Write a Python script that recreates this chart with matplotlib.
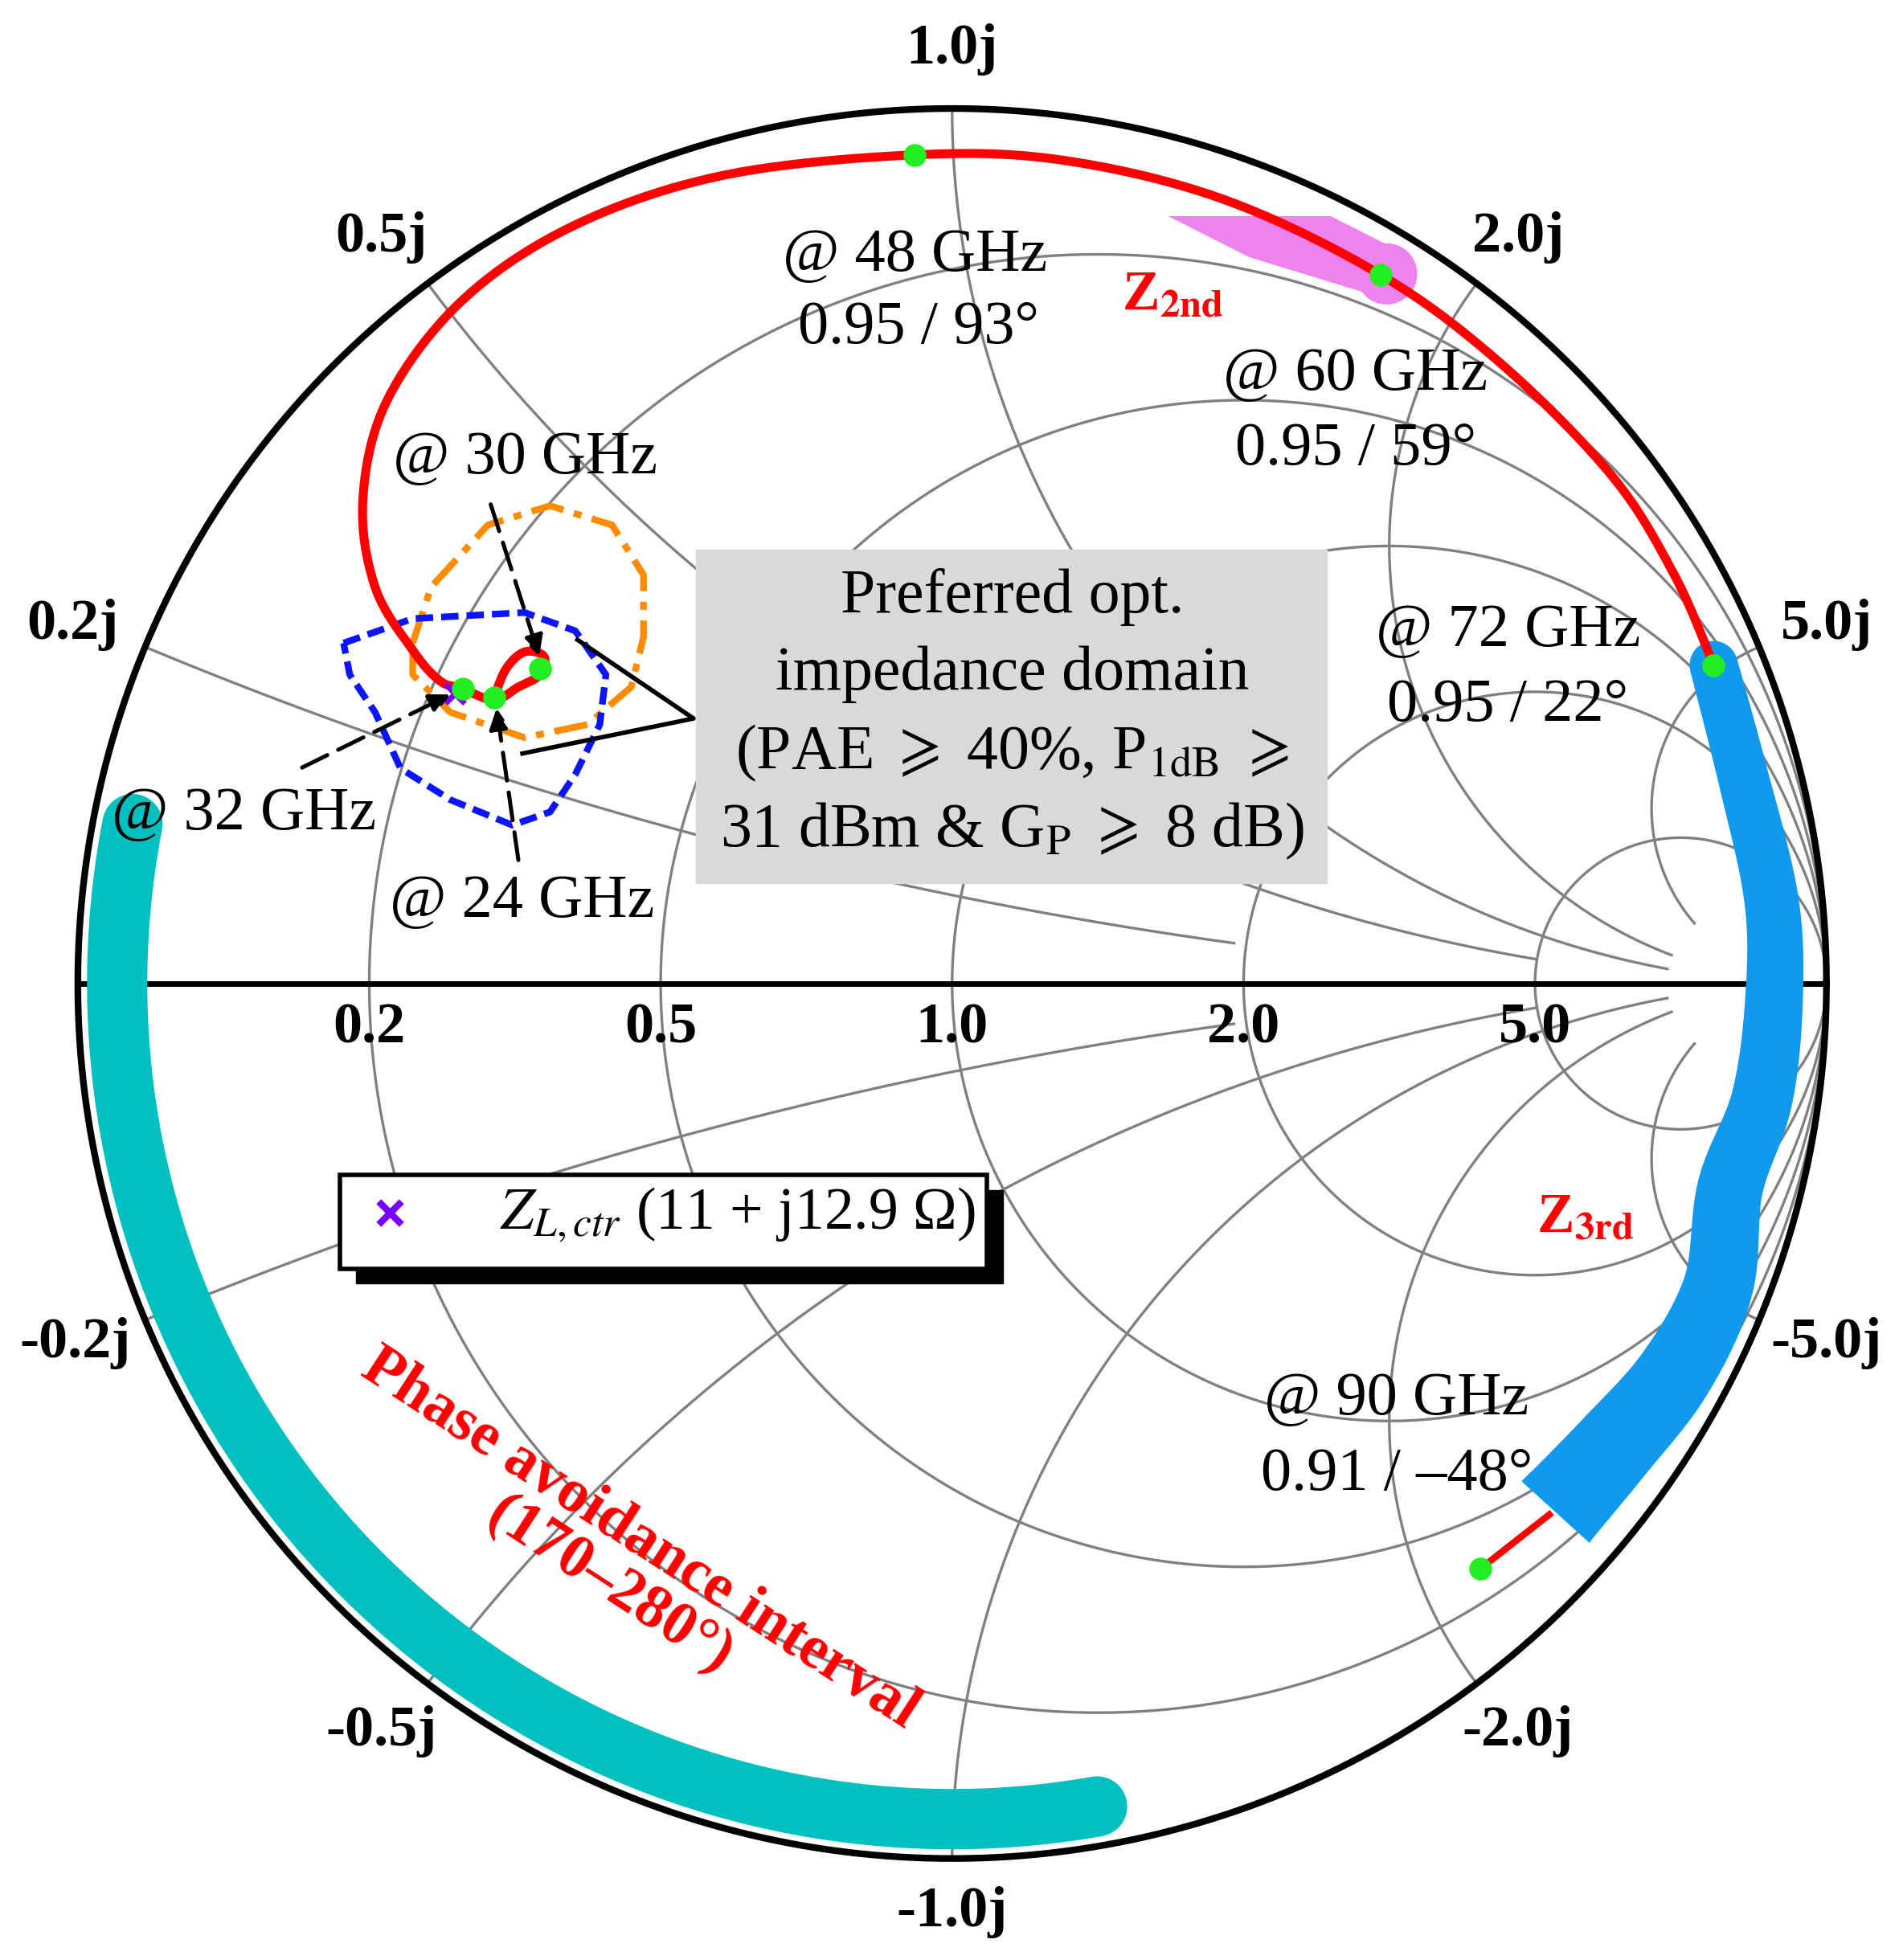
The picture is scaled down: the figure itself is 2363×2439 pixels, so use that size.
import numpy as np
import matplotlib
matplotlib.use("Agg")
import matplotlib.pyplot as plt
from matplotlib.patches import Polygon, Rectangle, Circle

plt.rcParams['font.family'] = ['Liberation Serif', 'DejaVu Serif']
plt.rcParams['mathtext.fontset'] = 'stix'

# ---- data (reflection coefficient plane) ----
r_values = [0.2, 0.5, 1.0, 2.0, 5.0]
x_values = [0.2, 0.5, 1.0, 2.0, 5.0]
x_rlimit = [2.0, 5.0, 10.0, 10.0, 10.0]
r_labels = ["0.2", "0.5", "1.0", "2.0", "5.0"]
z2nd_re = [-0.524, -0.510, -0.489, -0.467, -0.471, -0.496, -0.524, -0.560, -0.586, -0.617, -0.660, -0.674,
           -0.646, -0.560, -0.431, -0.260, -0.043, 0.126, 0.311, 0.490, 0.626, 0.754, 0.826, 0.871]
z2nd_im = [0.327, 0.360, 0.379, 0.374, 0.353, 0.339, 0.324, 0.337, 0.346, 0.381, 0.453, 0.553,
           0.667, 0.781, 0.867, 0.924, 0.947, 0.941, 0.896, 0.810, 0.710, 0.581, 0.467, 0.364]
z3rd_re = [0.871, 0.904, 0.937, 0.940, 0.926, 0.890, 0.876, 0.826, 0.754, 0.690]
z3rd_im = [0.364, 0.239, 0.096, -0.019, -0.133, -0.233, -0.347, -0.447, -0.533, -0.604]
z3rd_width = [0.055, 0.058, 0.062, 0.066, 0.070, 0.075, 0.080, 0.088, 0.096, 0.105]
tail_re = [0.683, 0.604]
tail_im = [-0.607, -0.669]
mag_re = [0.247, 0.433, 0.504, 0.526, 0.497, 0.461, 0.340]
mag_im = [0.877, 0.877, 0.841, 0.807, 0.781, 0.793, 0.830]
orange_re = [-0.617, -0.596, -0.531, -0.460, -0.389, -0.353, -0.353, -0.367, -0.417, -0.489, -0.574, -0.617, -0.617]
orange_im = [0.389, 0.453, 0.524, 0.546, 0.524, 0.467, 0.396, 0.339, 0.296, 0.281, 0.310, 0.353, 0.389]
blue_re = [-0.696, -0.617, -0.489, -0.431, -0.396, -0.403, -0.431, -0.460, -0.503, -0.574, -0.631, -0.660, -0.689, -0.696]
blue_im = [0.389, 0.417, 0.424, 0.403, 0.353, 0.296, 0.239, 0.196, 0.181, 0.210, 0.246, 0.310, 0.353, 0.389]
dots_re = [-0.524, -0.471, -0.560, -0.043, 0.490, 0.871, 0.604]
dots_im = [0.327, 0.360, 0.337, 0.947, 0.810, 0.364, -0.669]
avoid_mag = 0.955
avoid_start, avoid_end = 169.0, 280.0
ZL = 11 + 12.9j
Z0 = 50.0

W, H = 2363, 2439
fig = plt.figure(figsize=(W / 100, H / 100), dpi=100)
ax = fig.add_axes([0, 0, 1, 1])
ax.set_xlim(-1.089, 1.083)
ax.set_ylim(-1.116, 1.124)
ax.axis('off')

def P(x, y):
    return (x - 762) / 700.0, (787 - y) / 700.0

def smooth(xs, ys, k=12):
    """Catmull-Rom path through the given points (drawing only)."""
    p = np.c_[xs, ys]
    p = np.vstack([p[0], p, p[-1]])
    out = []
    tt = np.linspace(0, 1, k, endpoint=False)
    for i in range(1, len(p) - 2):
        p0, p1, p2, p3 = p[i - 1], p[i], p[i + 1], p[i + 2]
        for s in tt:
            out.append(0.5 * ((2 * p1) + (-p0 + p2) * s + (2 * p0 - 5 * p1 + 4 * p2 - p3) * s ** 2
                              + (-p0 + 3 * p1 - 3 * p2 + p3) * s ** 3))
    out.append(p[-2])
    out = np.array(out)
    return out[:, 0], out[:, 1]

grey = '#808080'
t = np.linspace(0, 2 * np.pi, 2000)
for r in r_values:
    c, rad = r / (1 + r), 1 / (1 + r)
    ax.plot(c + rad * np.cos(t), rad * np.sin(t), color=grey, lw=2.4, zorder=1)
for x, rl in zip(x_values, x_rlimit):
    for s in (1, -1):
        gx = 1 + (1 / x) * np.cos(t)
        gy = s / x + (1 / x) * np.sin(t)
        gam = gx + 1j * gy
        with np.errstate(all='ignore'):
            z = (1 + gam) / (1 - gam)
        ok = (np.abs(gam) <= 1.0) & (z.real <= rl)
        gx = np.where(ok, gx, np.nan); gy = np.where(ok, gy, np.nan)
        ax.plot(gx, gy, color=grey, lw=2.4, zorder=1)
ax.plot(np.cos(t), np.sin(t), color='black', lw=6, zorder=2)
ax.plot([-1, 1], [0, 0], color='black', lw=5, zorder=2)

lab = dict(fontsize=52, fontweight='bold', ha='center', va='center')
for r, s in zip(r_values, r_labels):
    ax.text((r - 1) / (r + 1), -0.052, s, **lab)
for pos, s in [((762, 40), "1.0j"), ((305, 190), "0.5j"), ((1215, 190), "2.0j"), ((58, 500), "0.2j"),
               ((1462, 500), "5.0j"), ((60, 1075), "-0.2j"), ((1462, 1075), "-5.0j"),
               ((305, 1385), "-0.5j"), ((1215, 1385), "-2.0j"), ((762, 1530), "-1.0j")]:
    ax.text(*P(*pos), s, **lab)

# phase avoidance band
a = np.radians(np.linspace(avoid_start, avoid_end, 300))
ax.plot(avoid_mag * np.cos(a), avoid_mag * np.sin(a), color='#00c0c0', lw=54, solid_capstyle='round', zorder=3)

# magenta region
ax.add_patch(Polygon(np.c_[mag_re, mag_im], closed=True, color='#ee82ee', lw=0, zorder=3))
ax.add_patch(Circle((0.497, 0.811), 0.035, color='#ee82ee', lw=0, zorder=3))

# Z3rd band (variable width)
xr, yi = smooth(z3rd_re, z3rd_im)
w = np.interp(np.linspace(0, 1, len(xr)), np.linspace(0, 1, len(z3rd_width)), z3rd_width)
dx, dy = np.gradient(xr), np.gradient(yi)
n = np.hypot(dx, dy)
nx, ny = -dy / n, dx / n
poly = np.r_[np.c_[xr + nx * w / 2, yi + ny * w / 2], np.c_[xr - nx * w / 2, yi - ny * w / 2][::-1]]
ax.add_patch(Polygon(poly, closed=True, color='#0f9af0', lw=0, zorder=3))
ax.add_patch(Circle((xr[0], yi[0]), w[0] / 2, color='#0f9af0', lw=0, zorder=3))

# contours
ax.plot(orange_re, orange_im, color='#ff8c00', lw=6, dashes=(5, 1.6, 1.2, 1.6), zorder=4)
ax.plot(blue_re, blue_im, color='#0a14ff', lw=6, dashes=(2.6, 1.2), zorder=4)

# red curve
sx_, sy_ = smooth(z2nd_re, z2nd_im)
ax.plot(sx_, sy_, color='#ff0000', lw=8, zorder=5, solid_capstyle='round')
ax.plot(tail_re, tail_im, color='#ff0000', lw=6, zorder=5)
ax.scatter(dots_re, dots_im, s=420, color='#22ee22', zorder=7, lw=0)

g = (ZL / Z0 - 1) / (ZL / Z0 + 1)
ax.scatter([g.real], [g.imag], marker='x', s=300, color='#7a00ff', linewidths=5, zorder=6)

# arrows
arr = dict(arrowstyle='-|>', color='black', lw=3.6, linestyle=(0, (7, 3)), mutation_scale=38)
for (x0, y0), (x1, y1) in [((392, 402), (432, 527)), ((240, 615), (362, 555)), ((415, 690), (397, 565))]:
    ax.annotate('', xy=P(x1, y1), xytext=P(x0, y0), arrowprops=arr, zorder=8)
lx, ly = zip(P(462, 512), P(555, 575), P(418, 603))
ax.plot(lx, ly, color='black', lw=4, zorder=8)

# info box
x0, y0 = P(557, 707); x1, y1 = P(1062, 440)
ax.add_patch(Rectangle((x0, y0), x1 - x0, y1 - y0, color='#d9d9d9', zorder=9))
bt = dict(fontsize=56, ha='center', va='center', zorder=10)
ax.text(*P(810, 478), "Preferred opt.", **bt)
ax.text(*P(810, 540), "impedance domain", **bt)
ax.text(*P(810, 603), r"(PAE $\geqslant$ 40%, P$_{\mathrm{1dB}}$ $\geqslant$", **bt)
ax.text(*P(810, 665), r"31 dBm & G$_{\mathrm{P}}$ $\geqslant$ 8 dB)", **bt)

# legend box
sx, sy = P(285, 1027); ex, ey = P(803, 952)
ax.add_patch(Rectangle((sx, sy), ex - sx, ey - sy, color='black', zorder=9))
lx0, ly0 = P(272, 1015); lx1, ly1 = P(790, 940)
ax.add_patch(Rectangle((lx0, ly0), lx1 - lx0, ly1 - ly0, facecolor='white', edgecolor='black', lw=4, zorder=10))
ax.scatter(*P(312, 970), marker='x', s=420, color='#7a00ff', linewidths=6, zorder=11)
ax.text(*P(400, 972), r"$Z_{L,ctr}$ (11 + j12.9 Ω)", fontsize=53, ha='left', va='center', zorder=11)

# annotations
at = dict(fontsize=55, ha='center', va='center', zorder=8)
ax.text(*P(732, 205), "@ 48 GHz", **at); ax.text(*P(735, 263), "0.95 / 93°", **at)
ax.text(*P(1085, 300), "@ 60 GHz", **at); ax.text(*P(1085, 360), "0.95 / 59°", **at)
ax.text(*P(420, 367), "@ 30 GHz", **at)
ax.text(*P(1207, 505), "@ 72 GHz", **at); ax.text(*P(1207, 565), "0.95 / 22°", **at)
ax.text(*P(195, 652), "@ 32 GHz", **at)
ax.text(*P(418, 722), "@ 24 GHz", **at)
ax.text(*P(1118, 1120), "@ 90 GHz", **at); ax.text(*P(1118, 1180), "0.91 / –48°", **at)

rt = dict(color='#ff0000', fontweight='bold', zorder=8, va='center')
ax.text(*P(898, 237), r"Z$_{\mathbf{2nd}}$", fontsize=50, ha='left', **rt)
ax.text(*P(1230, 975), r"Z$_{\mathbf{3rd}}$", fontsize=50, ha='left', **rt)
ax.text(*P(500, 1250), "Phase avoidance interval\n(170–280°)", fontsize=55, ha='center',
        rotation=-33, rotation_mode='anchor', multialignment='center', linespacing=1.0, **rt)

fig.savefig("out.png", dpi=100)
